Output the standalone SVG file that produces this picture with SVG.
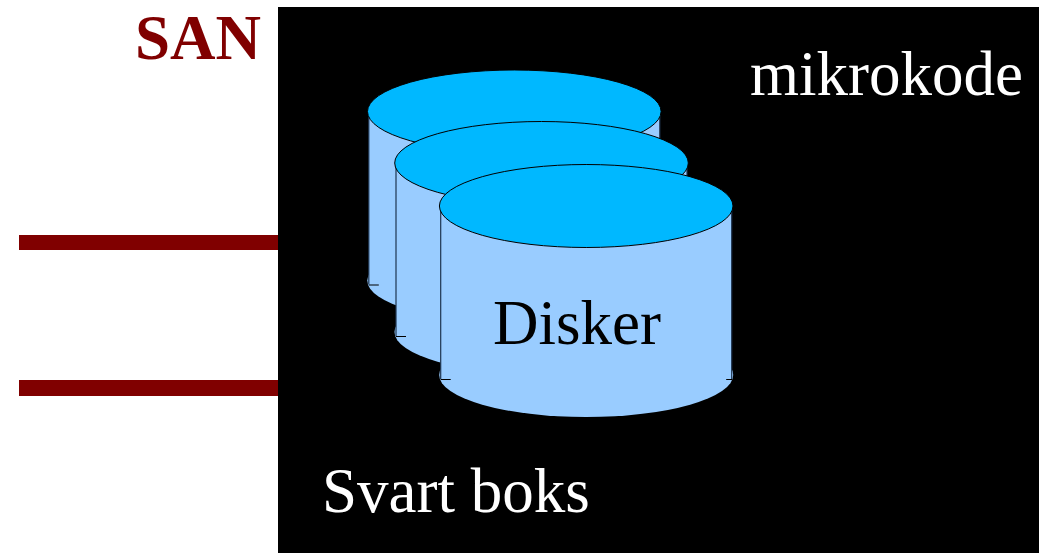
<svg xmlns="http://www.w3.org/2000/svg" width="1039" height="553" viewBox="0 0 1039 553">
<style>
.fill{fill:#99ccff}
.edge{fill:none;stroke:#000;stroke-width:1}
.side{fill:none;stroke:#1f3550;stroke-width:1.2}
.top{fill:#00b8ff;stroke:#000;stroke-width:1}
.t{font-family:"Liberation Serif",serif;font-size:63px}
.bar{fill:#800000}
</style>
<defs>
<g id="cyl">
<ellipse class="fill" cx="0" cy="169" rx="147" ry="42"/>
<rect class="fill" x="-145.500" y="0" width="291" height="173"/>
<path class="side" d="M-145.500 0V173M145.500 0V173"/>
<path class="edge" d="M-145.500 173.500h10M140 173.500h6"/>
<ellipse class="top" cx="0" cy="0" rx="146.800" ry="41.500"/>
</g>
</defs>
<rect width="1039" height="553" fill="#fff"/>
<rect id="box" x="278" y="7" width="761" height="546" fill="#000"/>
<g id="connectors">
<rect class="bar" x="19" y="235" width="259" height="15"/>
<rect class="bar" x="19" y="380" width="259" height="16"/>
</g>
<text class="t" x="135" y="59" font-weight="bold" fill="#800000">SAN</text>
<text class="t" x="750" y="95" fill="#fff">mikrokode</text>
<text class="t" x="322" y="512" fill="#fff">Svart boks</text>
<g id="disk1"><use href="#cyl" x="514.300" y="111.500"/></g>
<g id="disk2"><use href="#cyl" x="541.500" y="163"/></g>
<g id="disk3"><use href="#cyl" x="586.200" y="206"/>
<text class="t" x="493" y="344" fill="#000">Disker</text></g>
</svg>
